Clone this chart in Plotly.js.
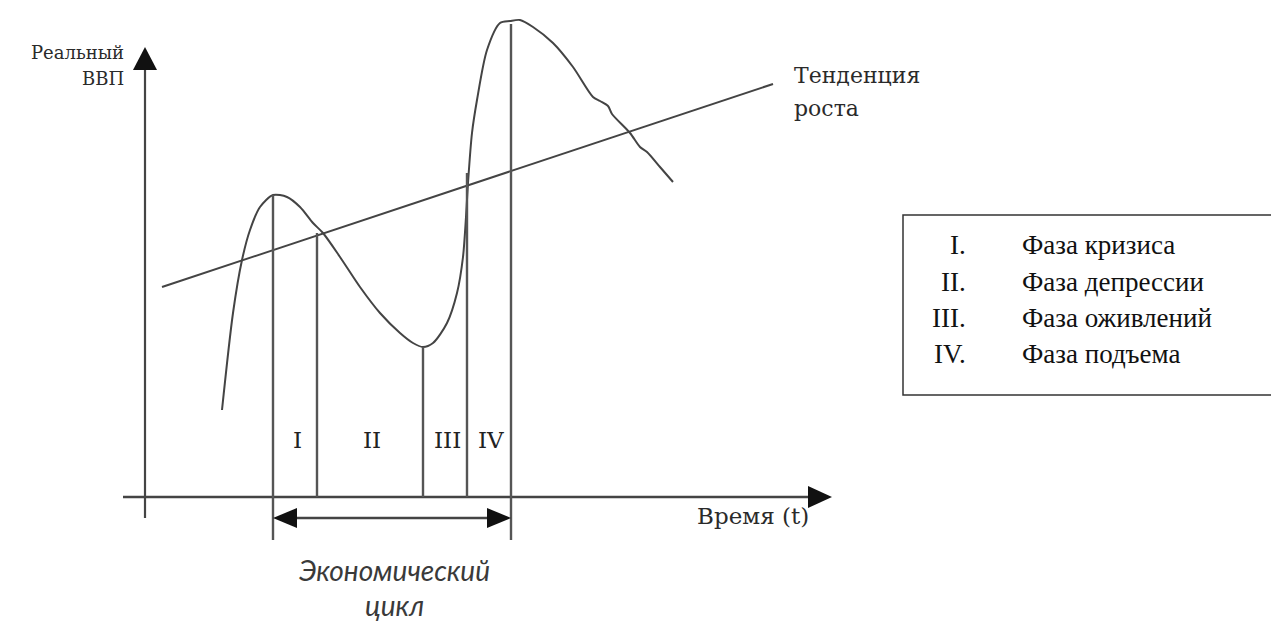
<!DOCTYPE html>
<html>
<head>
<meta charset="utf-8">
<script src="https://cdn.plot.ly/plotly-3.0.1.min.js"></script>
<style>
  body { margin: 0; background: #fff; }
  #plot { width: 1271px; height: 621px; }
</style>
</head>
<body>
<div id="plot"></div>
<script>
const cycleT = [7.7, 8.8, 9.7, 10.5, 11.5, 12.8, 14.2, 15.5, 16.8, 17.8, 19.5, 21.5, 23.5, 25.5, 26.8, 27.8,
    28.8, 30.2, 31.2, 31.8, 32.1, 32.3, 32.7, 33.2, 34.2, 35.5, 36.5, 37.5, 38.8, 40.8, 42.8, 44.8,
    45.5, 46.3, 46.7, 48.5, 49.5, 50.2, 51.5, 52.8];
const cycleGdp = [8.7, 18.4, 23.7, 26.7, 29.0, 30.2, 30.0, 29.0, 27.4, 26.4, 24.0, 21.0, 18.4, 16.4, 15.4, 15.0,
    15.4, 17.4, 20.4, 24.0, 28.0, 31.4, 36.4, 39.7, 44.7, 47.4, 47.6, 47.7, 47.0, 45.4, 43.0, 40.0,
    39.6, 39.1, 38.3, 36.4, 35.0, 34.5, 33.0, 31.5];

// growth trend
const trendT = [1.7, 62.8];
const trendGdp = [21.0, 41.3];

// phase boundaries and where they meet the curve
const phaseT = [12.8, 17.2, 27.8, 32.2, 36.6];
const phaseTop = [30.2, 26.4, 15.0, 32.4, 47.3];
const phaseLabels = ['I', 'II', 'III', 'IV'];
const legendNums = ['I.', 'II.', 'III.', 'IV.'];
const phaseNames = ['Фаза кризиса', 'Фаза депрессии', 'Фаза оживлений', 'Фаза подъема'];

const ink = '#444';
const bracketY = -2.1;
const bracketBottom = -4.3;

function head(tipX, tipY, baseX, baseY, half) {
    let p;
    if (tipX === baseX) {
        p = `M ${tipX} ${tipY} L ${baseX - half} ${baseY} L ${baseX + half} ${baseY} Z`;
    } else {
        p = `M ${tipX} ${tipY} L ${baseX} ${baseY - half} L ${baseX} ${baseY + half} Z`;
    }
    return { type: 'path', xref: 'x', yref: 'y', path: p, fillcolor: '#111', line: { width: 0 } };
}

function seg(x0, y0, x1, y1, w, c) {
    return { type: 'line', xref: 'x', yref: 'y', x0: x0, y0: y0, x1: x1, y1: y1,
        line: { color: c || ink, width: w || 2 } };
}

const shapes = [];
// axes
shapes.push(seg(0, -2.1, 0, 43.0, 2.2));
shapes.push(head(0, 45.0, 0, 42.7, 1.2));
shapes.push(seg(-2.2, 0, 66.6, 0, 2.4));
shapes.push(head(68.7, 0, 66.3, 0, 1.1));

// phase verticals
phaseT.forEach((t, i) => {
    const bottom = (i === 0 || i === phaseT.length - 1) ? bracketBottom : 0;
    shapes.push(seg(t, bottom, t, phaseTop[i], 2.4, '#555'));
});

// cycle bracket
const c0 = phaseT[0], c1 = phaseT[phaseT.length - 1];
shapes.push(seg(c0 + 2, bracketY, c1 - 2, bracketY, 2.4));
shapes.push(head(c0, bracketY, c0 + 2.4, bracketY, 1.0));
shapes.push(head(c1, bracketY, c1 - 2.4, bracketY, 1.0));

// legend box
shapes.push({ type: 'rect', xref: 'x', yref: 'y', x0: 75.8, x1: 114, y0: 10.2, y1: 28.2,
    line: { color: '#333', width: 1.5 }, fillcolor: 'rgba(0,0,0,0)' });

const serif = 'DejaVu Serif, serif';
const ann = [];
function label(x, y, text, size, anchor, font, color) {
    ann.push({ x: x, y: y, xref: 'x', yref: 'y', text: text, showarrow: false,
        xanchor: anchor, yanchor: 'middle',
        font: { family: font || serif, size: size, color: color || '#2a2a2a' } });
}

label(-1.9, 44.5, 'Реальный', 18, 'right');
label(-1.9, 41.9, 'ВВП', 18, 'right');
label(64.7, 42.2, 'Тенденция', 22, 'left');
label(64.7, 38.9, 'роста', 22, 'left');
label(55.0, -1.9, 'Время (t)', 23, 'left');

phaseLabels.forEach((p, i) => {
    label((phaseT[i] + phaseT[i + 1]) / 2 + 0.2, 5.7, p, 23, 'center', serif, '#222');
});

const italic = { family: 'Lato, sans-serif', size: 28, color: '#3a3a3a', style: 'italic' };
ann.push({ x: 24.9, y: -7.3, xref: 'x', yref: 'y', text: 'Экономический', showarrow: false,
    xanchor: 'center', yanchor: 'middle', font: italic });
ann.push({ x: 24.9, y: -10.8, xref: 'x', yref: 'y', text: 'цикл', showarrow: false,
    xanchor: 'center', yanchor: 'middle', font: italic });

const rowY = [25.2, 21.5, 17.9, 14.3];
const tnr = 'Liberation Serif, Times New Roman, serif';
phaseNames.forEach((n, i) => {
    label(82.3, rowY[i], legendNums[i], 27, 'right', tnr, '#111');
    label(87.5, rowY[i], n, 27, 'left', tnr, '#111');
});

const data = [
    {
        x: trendT, y: trendGdp, type: 'scatter', mode: 'lines',
        line: { color: ink, width: 2 }, hoverinfo: 'skip'
    },
    {
        x: cycleT, y: cycleGdp, type: 'scatter', mode: 'lines',
        line: { color: ink, width: 2, shape: 'spline', smoothing: 0.8 }, hoverinfo: 'skip'
    }
];

const layout = {
    width: 1271, height: 621,
    margin: { l: 0, r: 0, t: 0, b: 0 },
    paper_bgcolor: '#fff', plot_bgcolor: '#fff',
    showlegend: false,
    xaxis: { range: [-14.5, 112.6], visible: false, fixedrange: true },
    yaxis: { range: [-12.4, 49.7], visible: false, fixedrange: true },
    shapes: shapes,
    annotations: ann
};

Plotly.newPlot('plot', data, layout, { displayModeBar: false, staticPlot: true });
</script>
</body>
</html>
